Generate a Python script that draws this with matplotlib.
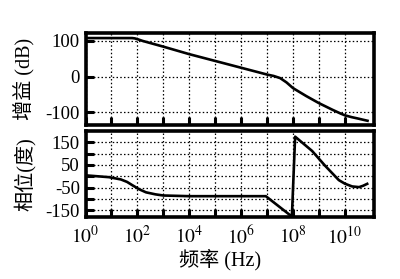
import numpy as np
import matplotlib
matplotlib.use("Agg")
import matplotlib.pyplot as plt
from matplotlib.ticker import FixedLocator, FuncFormatter

plt.rcParams['font.family'] = ['Liberation Serif', 'Noto Sans CJK SC', 'DejaVu Sans']
plt.rcParams['mathtext.fontset'] = 'stix'

# ---- data ----
gain_freq = [1e0, 1e1, 6.3e1, 8.0e1, 1.0e2, 1.6e2, 1e3, 1e4, 1e5, 1e6, 1e7,
             1.8e7, 3.2e7, 5.6e7, 1e8, 3.2e8, 1e9, 3.2e9, 6.8e9, 1e10,
             1.8e10, 3.2e10, 8.3e10]
gain_db = [108, 108, 108, 107, 105, 100, 84, 63, 44, 25, 6,
           2, -4, -16, -32, -54, -74, -92, -103, -108,
           -113, -117, -124]

phase_freq = [1e0, 8e0, 2.3e1, 4e1, 6.5e1, 1.2e2, 2.15e2, 5e2, 1e3, 1e4,
              8.9e6, 9e7, 1.2e8, 5.4e8, 1.7e9, 5.8e9, 1e10, 1.9e10, 3.5e10,
              5e10, 8e10]
phase_deg = [4, -4, -14, -25, -40, -58, -71, -80, -85, -88,
             -88, -178, 175, 112, 47, -17, -33, -45, -48, -42, -31]

x_ticks = [1e0, 1e1, 1e2, 1e3, 1e4, 1e5, 1e6, 1e7, 1e8, 1e9, 1e10]
x_label_exps = [0, 2, 4, 6, 8, 10]
gain_ticks = [100, 0, -100]
phase_ticks = [150, 100, 50, 0, -50, -100, -150]
phase_ticklabels = [150, 50, -50, -150]

W, H = 400, 279
fig = plt.figure(figsize=(W / 100, H / 100), dpi=100)

left = 85.5 / W
width = 288 / W
ax1 = fig.add_axes([left, 1 - 125 / H, width, (125 - 32.7) / H])
ax2 = fig.add_axes([left, 1 - 217 / H, width, (217 - 131) / H])

serif_cjk = ['Liberation Serif', 'Noto Sans CJK SC', 'DejaVu Sans']

xlim = (1e0, 10 ** 11.1)
for ax in (ax1, ax2):
    ax.set_xscale('log')
    ax.set_xlim(*xlim)
    for s in ax.spines.values():
        s.set_linewidth(2.6)
        s.set_color('black')
    ax.xaxis.set_major_locator(FixedLocator(x_ticks))
    ax.xaxis.set_minor_locator(FixedLocator([]))
    ax.tick_params(axis='both', which='major', direction='in', length=5.5,
                   width=2.2, color='black', labelsize=13.5, pad=4,
                   top=False, right=False)
    ax.grid(True, which='major', linestyle=(0, (1.2, 1.8)), color='black',
            linewidth=0.9)

ax1.plot(gain_freq, gain_db, color='black', lw=1.9, solid_capstyle='butt')
ax1.set_ylim(-135, 123)
ax1.yaxis.set_major_locator(FixedLocator(gain_ticks))
ax1.set_yticklabels([str(v) for v in gain_ticks])
ax1.tick_params(axis='x', labelbottom=False)

ax2.plot(phase_freq, phase_deg, color='black', lw=1.9, solid_capstyle='butt')
ax2.set_ylim(-180, 200)
ax2.yaxis.set_major_locator(FixedLocator(phase_ticks))
ax2.yaxis.set_major_formatter(
    FuncFormatter(lambda v, p: str(int(v)) if int(v) in phase_ticklabels else ''))
ax2.xaxis.set_major_formatter(
    FuncFormatter(lambda v, p: (r'$10^{%d}$' % round(np.log10(v)))
                  if round(np.log10(v)) in x_label_exps else ''))
ax2.tick_params(axis='x', labelsize=14, pad=6)

for ax in (ax1, ax2):
    for lbl in ax.get_yticklabels():
        lbl.set_family('Liberation Serif')

fig.text(25 / W, 1 - 78.5 / H, '增益 (dB)', rotation=90, ha='center', va='center',
         fontsize=14.5, family=serif_cjk)
fig.text(25 / W, 1 - 174 / H, '相位(度)', rotation=90, ha='center', va='center',
         fontsize=14.5, family=serif_cjk)
fig.text(220 / W, 1 - 260 / H, '频率 (Hz)', ha='center', va='center',
         fontsize=14.5, family=serif_cjk)

fig.savefig('out.png', dpi=100)
